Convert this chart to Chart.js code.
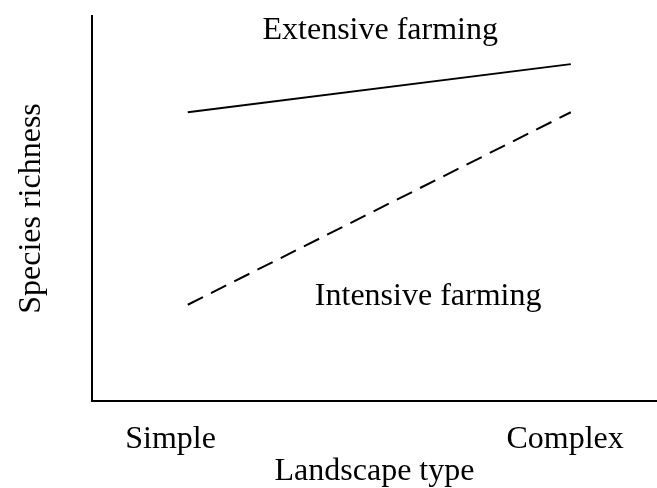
<!DOCTYPE html>
<html>
<head>
<meta charset="utf-8">
<script src="https://cdn.jsdelivr.net/npm/chart.js@4.4.0/dist/chart.umd.min.js"></script>
<style>
  html, body { margin: 0; padding: 0; background: #fff; }
  #wrap { width: 657px; height: 488px; }
</style>
</head>
<body>
<div id="wrap"><canvas id="mycanvas"></canvas></div>
<script>
// landscape positions (x) and species richness (y), arbitrary units
var landscapeX = [1, 5];
var extensive = [7.5, 8.75];
var intensive = [2.5, 7.5];

var tickValues = [0.82, 4.94];
var tickLabels = ["Simple", "Complex"];

var noteText = ["Extensive farming", "Intensive farming"];
var noteX = [3.01, 3.51];
var noteY = [9.62, 2.7];

var serif = "'Liberation Serif', 'Times New Roman', serif";

var notesPlugin = {
  id: 'notes',
  afterDatasetsDraw: function(chart) {
    var ctx = chart.ctx;
    var xs = chart.scales.x, ys = chart.scales.y;
    ctx.save();
    ctx.fillStyle = '#000';
    ctx.font = '32px ' + serif;
    ctx.textAlign = 'center';
    ctx.textBaseline = 'middle';
    for (var i = 0; i < noteText.length; i++) {
      ctx.fillText(noteText[i], xs.getPixelForValue(noteX[i]), ys.getPixelForValue(noteY[i]));
    }
    ctx.restore();
  }
};

function pts(ys) {
  var out = [];
  for (var i in ys) out.push({x: landscapeX[i], y: ys[i]});
  return out;
}

var chartdata = {
  datasets: [
    {
      label: "Extensive farming",
      data: pts(extensive),
      borderColor: "#000",
      borderWidth: 2,
      pointRadius: 0,
      tension: 0,
      fill: false
    },
    {
      label: "Intensive farming",
      data: pts(intensive),
      borderColor: "#000",
      borderWidth: 2,
      borderDash: [17, 9],
      pointRadius: 0,
      tension: 0,
      fill: false
    }
  ]
};

var ctx = document.getElementById('mycanvas');

var LineGraph = new Chart(ctx, {
  type: 'line',
  data: chartdata,
  plugins: [notesPlugin],
  options: {
    responsive: true,
    maintainAspectRatio: false,
    animation: false,
    layout: { padding: { top: 16, left: 16, right: 0, bottom: 0 } },
    plugins: { legend: { display: false }, tooltip: { enabled: false } },
    scales: {
      x: {
        type: 'linear',
        min: 0,
        max: 5.9,
        afterBuildTicks: function(axis) {
          axis.ticks = tickValues.map(function(v) { return {value: v}; });
        },
        grid: { display: false, drawTicks: false },
        border: { display: true, color: '#000', width: 2 },
        ticks: {
          color: '#000',
          font: { family: serif, size: 32, lineHeight: 1 },
          padding: 23,
          maxRotation: 0,
          autoSkip: false,
          callback: function(v, i) { return tickLabels[i]; }
        },
        title: {
          display: true,
          text: 'Landscape type',
          color: '#000',
          font: { family: serif, size: 32, lineHeight: 1 },
          padding: { top: -23, bottom: 0 }
        }
      },
      y: {
        min: 0,
        max: 10,
        grid: { display: false, drawTicks: false },
        border: { display: true, color: '#000', width: 2 },
        ticks: { display: false },
        title: {
          display: true,
          text: 'Species richness',
          color: '#000',
          font: { family: serif, size: 32, lineHeight: 1 },
          padding: { top: 0, bottom: 44 }
        }
      }
    }
  }
});
</script>
</body>
</html>
